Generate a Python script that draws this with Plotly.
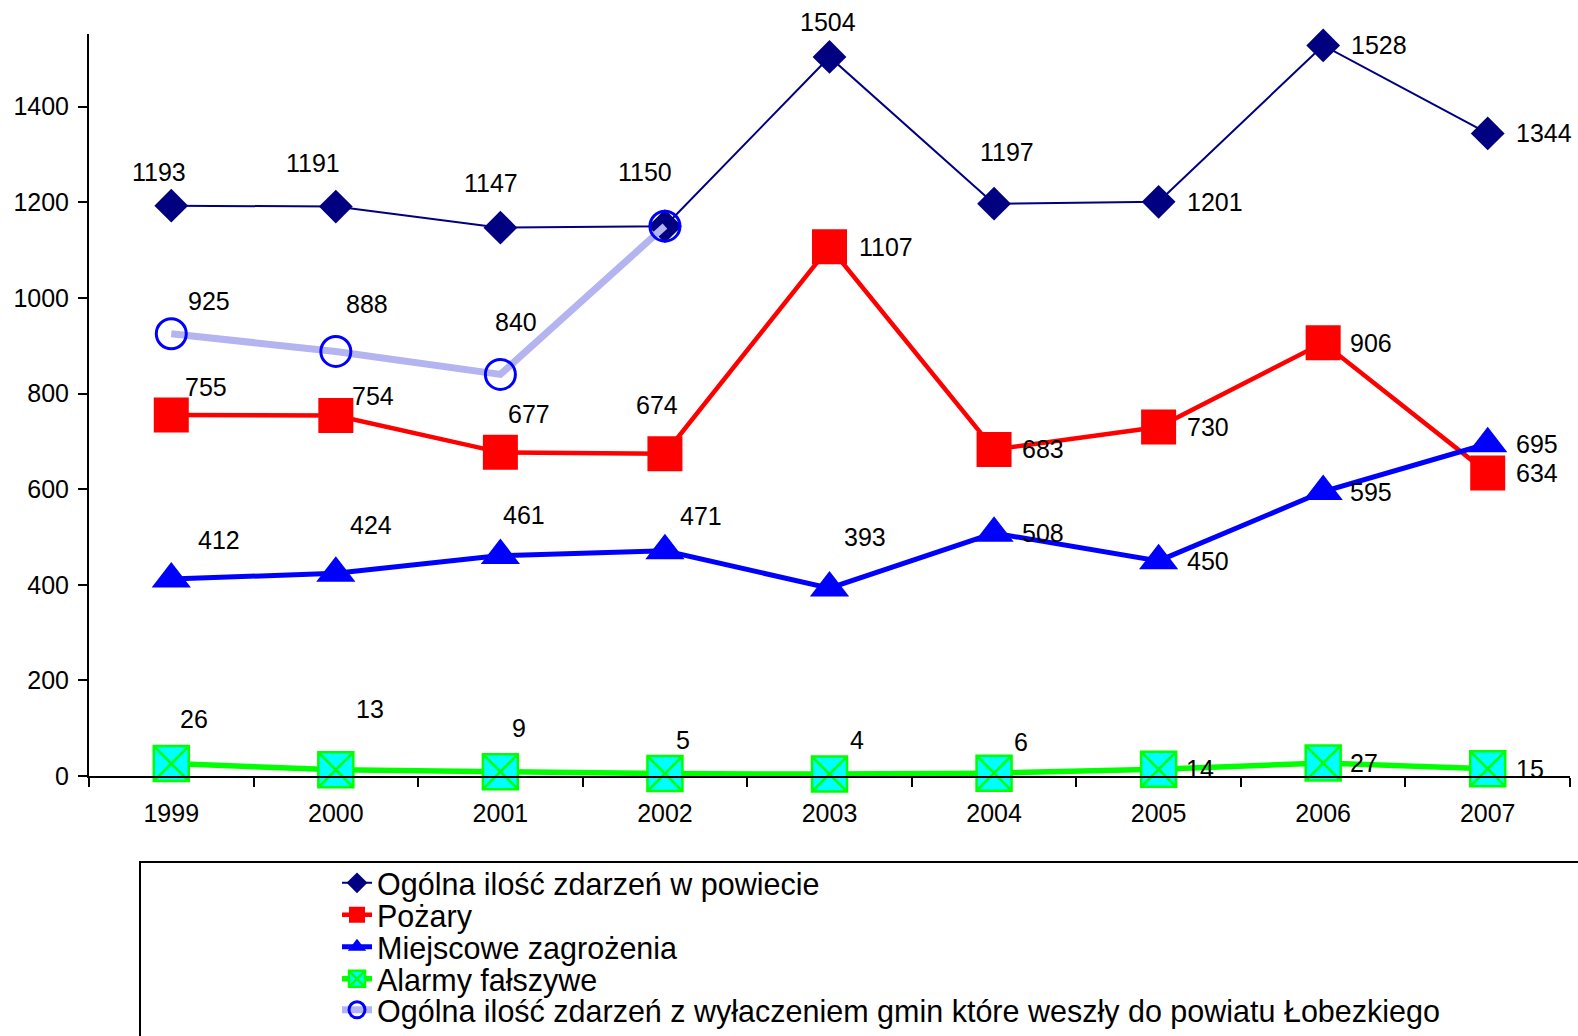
import plotly.graph_objects as go

years = ['1999', '2000', '2001', '2002', '2003', '2004', '2005', '2006', '2007']

ogolna = [1193, 1191, 1147, 1150, 1504, 1197, 1201, 1528, 1344]
pozary = [755, 754, 677, 674, 1107, 683, 730, 906, 634]
miejscowe = [412, 424, 461, 471, 393, 508, 450, 595, 695]
alarmy = [26, 13, 9, 5, 4, 6, 14, 27, 15]
bez_gmin = [925, 888, 840, 1150, None, None, None, None, None]

names = [
    'Ogólna ilość zdarzeń w powiecie',
    'Pożary',
    'Miejscowe zagrożenia',
    'Alarmy fałszywe',
    'Ogólna ilość zdarzeń z wyłaczeniem gmin które weszły do powiatu Łobezkiego',
]

# label offsets in pixels (dx right, dy up), hand placed like in the original
off_ogolna = [(-12, 34), (-23, 44), (-9, 45), (-20, 54), (-2, 35), (13, 52), (56, 0), (56, 0), (56, 0)]
off_pozary = [(35, 28), (37, 20), (29, 38), (-8, 49), (56, 0), (49, 0), (49, 0), (48, 0), (49, 0)]
off_miejsc = [(48, 39), (35, 48), (24, 41), (36, 35), (35, 51), (49, 0), (49, 0), (48, 0), (49, 0)]
off_alarmy = [(23, 45), (34, 61), (19, 44), (18, 34), (27, 34), (27, 31), (41, 0), (41, 0), (42, 0)]
off_bez = [(38, 33), (31, 47), (16, 52), None, None, None, None, None, None]

FONT = 'Liberation Sans, Arial, sans-serif'
W, H = 1578, 1036
L, R, T, B = 89, 8, 34, 260
PW, PH = W - L - R, H - T - B


def px_x(px):
    return (px - L) / PW


def px_y(py):
    return (H - B - py) / PH


fig = go.Figure()

fig.add_trace(go.Scatter(
    x=years, y=ogolna, name=names[0], mode='lines+markers', legend='legend',
    line=dict(color='#000080', width=2),
    marker=dict(symbol='diamond', size=26, color='#000080'),
    cliponaxis=False))
fig.add_trace(go.Scatter(
    x=years, y=pozary, name=names[1], mode='lines+markers', legend='legend2',
    line=dict(color='#ff0000', width=4.5),
    marker=dict(symbol='square', size=35, color='#ff0000'),
    cliponaxis=False))
fig.add_trace(go.Scatter(
    x=years, y=miejscowe, name=names[2], mode='lines+markers', legend='legend3',
    line=dict(color='#0000ff', width=5),
    marker=dict(symbol='triangle-up', size=34, color='#0000ff'),
    cliponaxis=False))
fig.add_trace(go.Scatter(
    x=years, y=alarmy, name=names[3], mode='lines+markers', legend='legend4',
    line=dict(color='#00ff00', width=5.5),
    marker=dict(symbol='square-x', size=35, color='#00ffff',
                line=dict(color='#00ff00', width=2.5)),
    cliponaxis=False))
fig.add_trace(go.Scatter(
    x=years, y=bez_gmin, name=names[4], mode='lines+markers', legend='legend5',
    line=dict(color='#b4b4f0', width=7),
    marker=dict(symbol='circle-open', size=30, color='#0000ff',
                line=dict(width=3)),
    cliponaxis=False))

# value labels; numeric-looking category names must be given as category index
annotations = []
for vals, offs in [(ogolna, off_ogolna), (pozary, off_pozary), (miejscowe, off_miejsc),
                   (alarmy, off_alarmy), (bez_gmin, off_bez)]:
    for i, (v, o) in enumerate(zip(vals, offs)):
        if v is None or o is None:
            continue
        annotations.append(dict(
            x=i, y=v, text=str(v), showarrow=False,
            xshift=o[0], yshift=o[1],
            font=dict(family=FONT, size=25, color='black')))

# one legend per row so the rows sit as tightly as in the original
legend_rows = [883, 915, 947, 979, 1010]
legend_keys = ['legend', 'legend2', 'legend3', 'legend4', 'legend5']
legend_layout = {}
for key, row in zip(legend_keys, legend_rows):
    legend_layout[key] = dict(
        x=px_x(337), y=px_y(row), xanchor='left', yanchor='middle',
        bgcolor='rgba(0,0,0,0)', borderwidth=0,
        font=dict(family=FONT, size=30.5, color='black'),
        itemclick=False, itemdoubleclick=False)

fig.update_layout(
    width=W, height=H,
    margin=dict(l=L, r=R, t=T, b=B, autoexpand=False),
    paper_bgcolor='white', plot_bgcolor='white',
    font=dict(family=FONT, size=25, color='black'),
    showlegend=True,
    annotations=annotations,
    shapes=[dict(type='rect', xref='paper', yref='paper',
                 x0=px_x(140), x1=px_x(1700), y0=px_y(862), y1=px_y(1200),
                 line=dict(color='black', width=2), fillcolor='rgba(0,0,0,0)')],
    **legend_layout,
)

fig.update_xaxes(
    type='category', range=[-0.5, 8.5],
    showline=True, linecolor='black', linewidth=2,
    ticks='outside', tickson='boundaries', ticklen=9, tickwidth=2, tickcolor='black',
    showgrid=False, zeroline=False,
    tickfont=dict(family=FONT, size=25, color='black'),
    ticklabelstandoff=14)
fig.update_yaxes(
    range=[0, 1552], tickvals=[0, 200, 400, 600, 800, 1000, 1200, 1400],
    showline=True, linecolor='black', linewidth=2,
    ticks='outside', ticklen=9, tickwidth=2, tickcolor='black',
    showgrid=False, zeroline=False,
    tickfont=dict(family=FONT, size=25, color='black'),
    ticklabelstandoff=4)

fig.write_html('out.html', config={'displayModeBar': False},
               post_script="document.body.style.margin='0';")
